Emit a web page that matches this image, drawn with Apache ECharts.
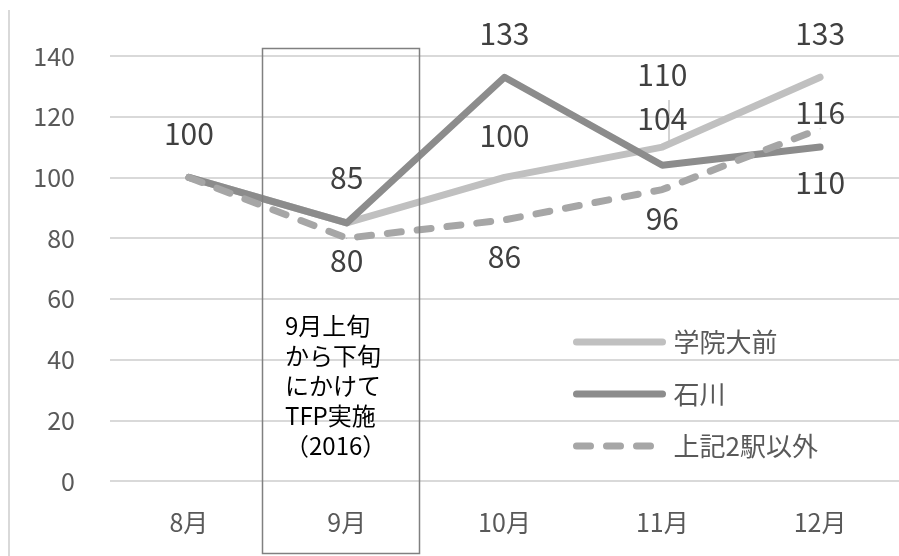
<!DOCTYPE html>
<html>
<head>
<meta charset="utf-8">
<script src="https://cdn.jsdelivr.net/npm/echarts@6/dist/echarts.min.js"></script>
<style>
  html, body { margin: 0; padding: 0; background: #fff; }
  #chart { width: 899px; height: 556px; }
</style>
</head>
<body>
<div id="chart"></div>
<script>
// データ
const months = ['8月', '9月', '10月', '11月', '12月'];
const gakuindai = [100, 85, 100, 110, 133];
const ishikawa = [100, 85, 133, 104, 110];
const others = [100, 80, 86, 96, 116];
const yTicks = [0, 20, 40, 60, 80, 100, 120, 140];

// ラベル表示と位置（スタイル設定）
const gakuindaiLabelShow = [true, true, true, true, true];
const gakuindaiLabelDy = [-44, -45, -42, -72, -44];
const ishikawaLabelShow = [false, false, true, true, true];
const ishikawaLabelDy = [0, 0, -44, -47, 36];
const othersLabelShow = [false, true, true, true, true];
const othersLabelDy = [0, 22, 37, 29, -16];

const FONT = '"Noto Sans CJK JP", "Noto Sans", sans-serif';

function buildData(values, shows, dys) {
    return values.map((v, i) => ({
        value: v,
        label: { show: shows[i], offset: [0, dys[i]] }
    }));
}

const labelStyle = {
    position: 'inside',
    fontSize: 30,
    color: '#404040',
    fontFamily: FONT
};

const chart = echarts.init(document.getElementById('chart'));

const option = {
    backgroundColor: '#fff',
    animation: false,
    grid: { left: 110, top: 56, width: 798, height: 425 },
    legend: {
        orient: 'vertical',
        left: 568,
        top: 324,
        itemWidth: 86,
        itemHeight: 26,
        itemGap: 26,
        itemStyle: { opacity: 0 },
        lineStyle: { width: 7, cap: 'round' },
        textStyle: { fontSize: 26, color: '#595959', fontFamily: FONT, padding: [0, 0, 0, 6] },
        data: ['学院大前', '石川', '上記2駅以外']
    },
    xAxis: {
        type: 'category',
        data: months,
        boundaryGap: true,
        axisLine: { show: false },
        axisTick: { show: false },
        axisLabel: { fontSize: 25, color: '#595959', fontFamily: FONT, margin: 29 }
    },
    yAxis: {
        type: 'value',
        min: yTicks[0],
        max: yTicks[yTicks.length - 1],
        interval: 20,
        axisLine: { show: false },
        axisTick: { show: false },
        axisLabel: { fontSize: 25, color: '#595959', fontFamily: FONT, margin: 35 },
        splitLine: { lineStyle: { color: '#d9d9d9', width: 2 } }
    },
    series: [
        {
            name: '学院大前',
            type: 'line',
            data: buildData(gakuindai, gakuindaiLabelShow, gakuindaiLabelDy),
            symbol: 'circle',
            symbolSize: 1,
            itemStyle: { color: '#c0c0c0' },
            lineStyle: { color: '#c0c0c0', width: 7, cap: 'round', join: 'round' },
            label: labelStyle,
            z: 2
        },
        {
            name: '石川',
            type: 'line',
            data: buildData(ishikawa, ishikawaLabelShow, ishikawaLabelDy),
            symbol: 'circle',
            symbolSize: 1,
            itemStyle: { color: '#8c8c8c' },
            lineStyle: { color: '#8c8c8c', width: 7, cap: 'round', join: 'round' },
            label: labelStyle,
            z: 3
        },
        {
            name: '上記2駅以外',
            type: 'line',
            data: buildData(others, othersLabelShow, othersLabelDy),
            symbol: 'circle',
            symbolSize: 1,
            itemStyle: { color: '#a6a6a6' },
            lineStyle: { color: '#a6a6a6', width: 7, type: [14, 16], cap: 'round', join: 'round' },
            label: labelStyle,
            z: 4
        }
    ],
    graphic: [
        // 左側の枠線
        {
            type: 'line',
            shape: { x1: 9, y1: 10, x2: 9, y2: 556 },
            style: { stroke: '#d9d9d9', lineWidth: 2 },
            silent: true
        },
        // 11月ラベルの引出線
        {
            type: 'line',
            shape: { x1: 669, y1: 100, x2: 669, y2: 146 },
            style: { stroke: '#a6a6a6', lineWidth: 1 },
            silent: true
        },
        // TFP実施期間の枠
        {
            type: 'rect',
            shape: { x: 262.5, y: 48.5, width: 157, height: 505 },
            style: { fill: 'none', stroke: '#808080', lineWidth: 1.5 },
            z: 10
        },
        {
            type: 'text',
            left: 285,
            top: 311,
            z: 11,
            style: {
                text: '9月上旬\nから下旬\nにかけて\nTFP実施\n（2016）',
                fontSize: 24,
                lineHeight: 30,
                fill: '#000',
                fontFamily: FONT
            }
        }
    ]
};

chart.setOption(option);
</script>
</body>
</html>
